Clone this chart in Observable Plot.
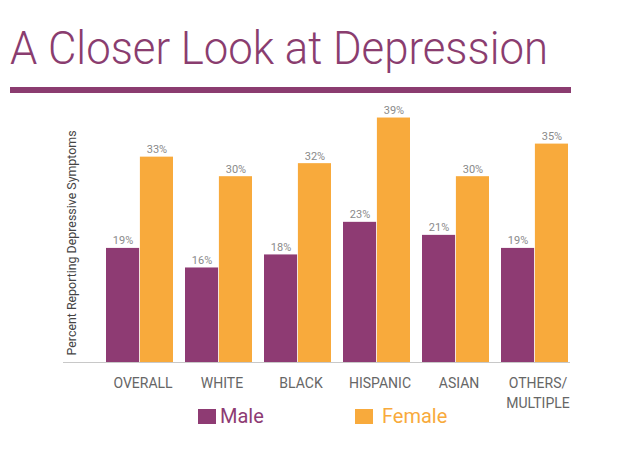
<!DOCTYPE html>
<html>
<head>
<meta charset="utf-8">
<script src="https://cdn.jsdelivr.net/npm/d3@7"></script>
<script src="https://cdn.jsdelivr.net/npm/@observablehq/plot@0.6"></script>
<style>
  html, body { margin: 0; padding: 0; background: #fff; }
  body { width: 619px; height: 449px; position: relative; overflow: hidden; font-family: Roboto, "Open Sans", sans-serif; }
  #title { position: absolute; left: 10px; top: 24px; font-size: 47px; line-height: 47px; font-weight: 300; color: #8A3D6F; white-space: nowrap; transform-origin: 0 0; }
  #rule { position: absolute; left: 10px; top: 87px; width: 561px; height: 6px; background: #8B3C70; }
  #chart { position: absolute; left: 0; top: 100px; }
  .leg-sw { position: absolute; width: 18px; height: 15px; top: 409px; }
  .leg-tx { position: absolute; top: 404px; font-size: 20px; line-height: 24px; white-space: nowrap; }
</style>
</head>
<body>
<div id="title">A Closer Look at Depression</div>
<div id="rule"></div>
<div id="chart"></div>
<div id="legend"></div>
<script>
const categories = ["OVERALL", "WHITE", "BLACK", "HISPANIC", "ASIAN", "OTHERS/\nMULTIPLE"];
const maleValues = [19, 16, 18, 23, 21, 19];
const femaleValues = [33, 30, 32, 39, 30, 35];
const series = ["Male", "Female"];
const seriesColors = ["#8E3B73", "#F8AA3C"];
const yLabel = "Percent Reporting Depressive Symptoms";

const rows = categories.flatMap((c, i) => [
  {cat: c, sex: series[0], v: maleValues[i]},
  {cat: c, sex: series[1], v: femaleValues[i]}
]);

const base = 1.5;
const xRange = [103, 570.5];
const padIn = 0.152;
const step = (xRange[1] - xRange[0]) / (categories.length - padIn);
const bw = step * (1 - padIn);
const half = bw / 2;

const chart = Plot.plot({
  width: 619,
  height: 320,
  marginTop: 11,
  marginBottom: 58,
  marginLeft: 63,
  marginRight: 49,
  style: {fontFamily: "Roboto, 'Open Sans', sans-serif", background: "transparent"},
  x: {domain: categories, range: xRange, paddingInner: padIn, paddingOuter: 0, axis: null},
  y: {domain: [base, 40], axis: null},
  color: {domain: series, range: seriesColors},
  marks: [
    Plot.barY(rows.filter(d => d.sex === series[0]), {x: "cat", y1: base, y2: "v", fill: "sex", insetRight: half}),
    Plot.barY(rows.filter(d => d.sex === series[1]), {x: "cat", y1: base, y2: "v", fill: "sex", insetLeft: half}),
    Plot.ruleY([base], {stroke: "#c8c8c8", strokeWidth: 1}),
    Plot.text(rows.filter(d => d.sex === series[0]), {x: "cat", y: "v", text: d => d.v + "%", dx: -half / 2, dy: -4, lineAnchor: "bottom", fontSize: 11, fill: "#8a8a8a"}),
    Plot.text(rows.filter(d => d.sex === series[1]), {x: "cat", y: "v", text: d => d.v + "%", dx: half / 2, dy: -4, lineAnchor: "bottom", fontSize: 11, fill: "#8a8a8a"}),
    Plot.axisX({tickSize: 0, tickPadding: 12, fontSize: 14, fill: "#666", dx: 3, lineHeight: 1.39, label: null}),
    Plot.text([yLabel], {frameAnchor: "bottom-left", rotate: -90, textAnchor: "start", dx: 12, dy: -7, fontSize: 12.4, fill: "#444"})
  ]
});
document.getElementById("chart").appendChild(chart);

// legend
const legend = document.getElementById("legend");
const legX = [198, 355];
series.forEach((s, i) => {
  const sw = document.createElement("div");
  sw.className = "leg-sw";
  sw.style.left = legX[i] + "px";
  sw.style.background = seriesColors[i];
  legend.appendChild(sw);
  const tx = document.createElement("div");
  tx.className = "leg-tx";
  tx.style.left = (legX[i] + 22 + (i === 1 ? 5 : 0)) + "px";
  tx.style.color = seriesColors[i];
  tx.textContent = s;
  legend.appendChild(tx);
});

// fit title width to reference
const t = document.getElementById("title");
const w = t.getBoundingClientRect().width;
t.style.transform = `scaleX(${538 / w})`;
</script>
</body>
</html>
